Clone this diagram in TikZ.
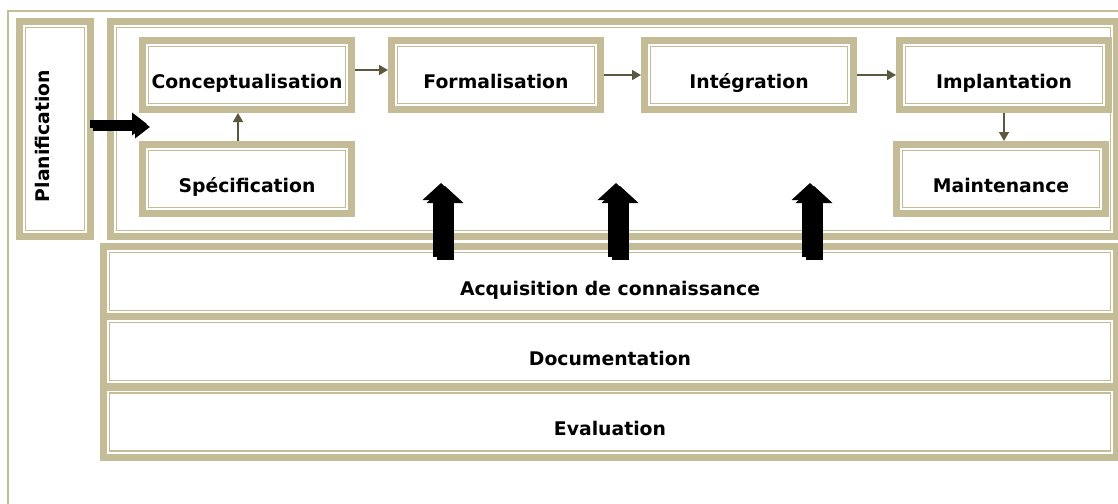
\documentclass[tikz,border=0pt]{standalone}
\usepackage{fontspec}
\setmainfont{DejaVu Sans}
\usetikzlibrary{arrows.meta}

\definecolor{bandtan}{RGB}{196,188,150}
\definecolor{flowline}{RGB}{92,88,64}
\definecolor{shade}{RGB}{135,135,135}

\newcommand{\stagefont}{\bfseries\fontsize{18.8pt}{22pt}\selectfont}

\tikzset{
    band/.style={draw=bandtan, line width=7pt, fill=white,
        path picture={\draw[bandtan, line width=1.3pt]
            ([shift={(6pt,-6pt)}]path picture bounding box.north west)
            rectangle ([shift={(-6pt,6pt)}]path picture bounding box.south east);}},
    stage/.style={band, minimum width=209pt, minimum height=69pt, font=\stagefont,
        text height=27.5pt, text depth=0pt},
    layer/.style={band, minimum width=1013pt, minimum height=70pt, font=\stagefont,
        text height=27.5pt, text depth=0pt},
    flow/.style={flowline, line width=1.5pt, -{Triangle[length=9pt,width=10pt]}},
    hbig/.style={line width=8pt, -{Triangle[length=15pt,width=22pt]}},
    vbig/.style={line width=17pt, -{Triangle[length=17pt,width=36pt]}},
}

\begin{document}
\begin{tikzpicture}[x=1pt, y=-1pt]
        \path[use as bounding box, fill=white] (0, 0) rectangle (1118, 503);
        \draw[bandtan, line width=1.5pt] (8, 530) -- (8, 11) -- (1130, 11);

        % frames
        \node[band, minimum width=71pt, minimum height=215pt] (plan) at (55, 129) {};
        \node[font=\stagefont, rotate=90] (plantxt) at ([shift={(-12.5pt,-7pt)}]plan.center) {Planification};
        \node[band, minimum width=1006pt, minimum height=215pt] (proc) at (613.5, 129) {};

        % stages
        \node[stage] (conc) at (247, 75) {Conceptualisation};
        \node[stage] (spec) at (247, 179) {Spécification};
        \node[stage] (form) at (496, 75) {Formalisation};
        \node[stage] (integ) at (749, 75) {Intégration};
        \node[stage] (impl) at (1004, 75) {Implantation};
        \node[stage] (maint) at (1001, 179) {Maintenance};

        % layers
        \node[layer] (acq) at (610, 281.5) {Acquisition de connaissance};
        \node[layer] (doc) at (610, 351.5) {Documentation};
        \node[layer] (eval) at (610, 422) {Evaluation};

        \draw[flow] ([yshift=5pt]conc.east) -- ([yshift=5pt]form.west);
        \draw[flow] (form.east) -- (integ.west);
        \draw[flow] (integ.east) -- (impl.west);
        \draw[flow] (impl.south) -- (impl.south |- maint.north);
        \draw[flow] ([xshift=-9pt]spec.north) -- ([xshift=-9pt]conc.south);

        \coordinate (planout) at (147, 124);
        \draw[hbig, shade] ([shift={(-1pt,2pt)}]plan.east) -- ([shift={(3pt,-3pt)}]planout);
        \draw[hbig] ([shift={(-4pt,5pt)}]plan.east) -- (planout);

        \foreach \n/\ax in {1/441, 2/616, 3/810} {
            \coordinate (tip\n) at (\ax, 183);
            \coordinate (base\n) at (acq.north -| tip\n);
            \draw[vbig, shade] ([shift={(4pt,-17pt)}]base\n) -- ([shift={(4pt,-3pt)}]tip\n);
            \draw[vbig] ([yshift=-14pt]base\n) -- (tip\n);
        }
    \end{tikzpicture}
\end{document}
